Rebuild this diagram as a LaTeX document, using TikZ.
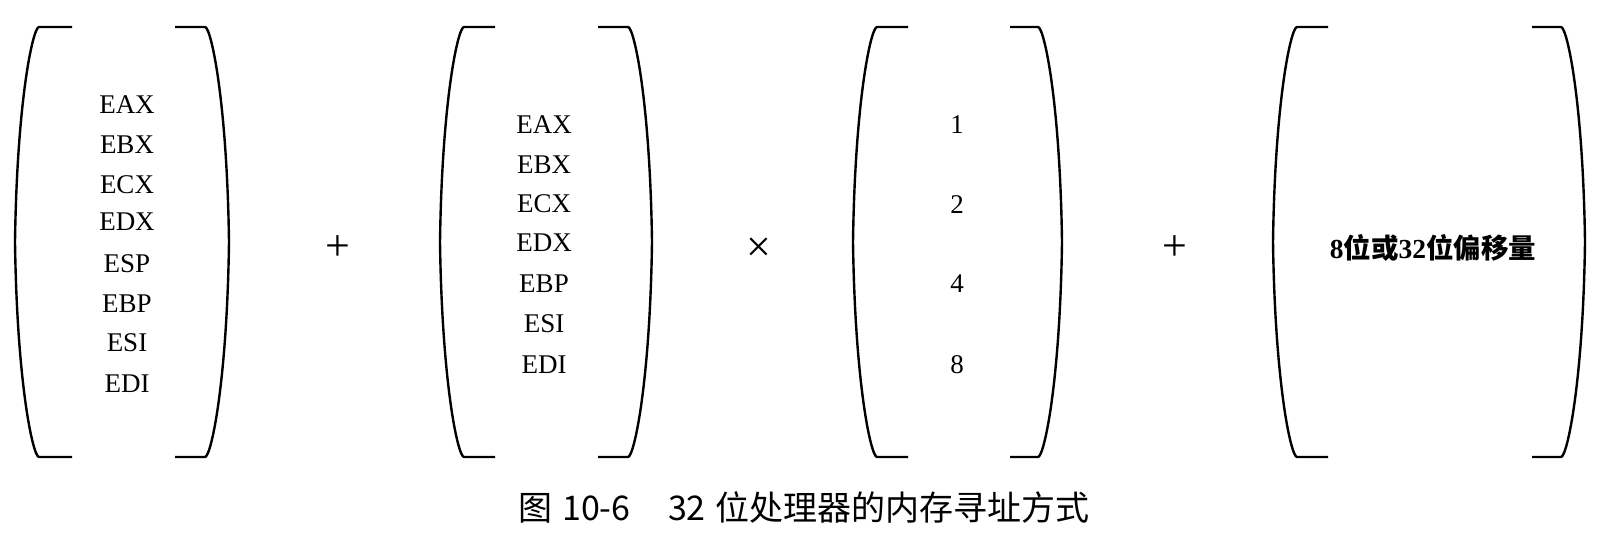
\documentclass[tikz,border=0pt]{standalone}
\usepackage{fontspec}
\setmainfont{Liberation Serif}
\newfontfamily\cjk{Noto Sans CJK SC}
\newfontfamily\cjkb{Noto Sans CJK SC Bold}
\newcommand\mybrackets[4]{%
  \draw[brk] (#2,27) -- (#1+24,27) .. controls (#1+18,27) and (#1+2,100) .. (#1,242)
     .. controls (#1+2,384) and (#1+18,457) .. (#1+24,457) -- (#2,457);
  \draw[brk] (#3,27) -- (#4-24,27) .. controls (#4-18,27) and (#4-2,100) .. (#4,242)
     .. controls (#4-2,384) and (#4-18,457) .. (#4-24,457) -- (#3,457);
}
\tikzset{
  brk/.style={line width=2.4pt, black},
  reg/.style={font=\fontsize{27}{27}\selectfont, inner sep=0pt},
  op/.style={font=\fontsize{44}{44}\selectfont, inner sep=0pt},
}
\begin{document}
\begin{tikzpicture}[x=1pt,y=-1pt]
\useasboundingbox (0,0) rectangle (1616,538);
% group 1
\mybrackets{15}{72}{175}{229}
\foreach \t/\y [count=\i] in {EAX/105,EBX/145,ECX/185,EDX/222,ESP/264,EBP/304,ESI/343,EDI/384}
  \node[reg] (a\i) at (127,\y) {\t};
\node[op] (plus1) at (338,248) {+};
% group 2
\mybrackets{440}{495}{598}{652}
\foreach \t/\y [count=\i] in {EAX/125,EBX/165,ECX/204,EDX/243,EBP/284,ESI/324,EDI/365}
  \node[reg] (b\i) at (544,\y) {\t};
\node[op] (times) at (759,250) {×};
% group 3
\mybrackets{853}{908}{1010}{1062}
\foreach \t/\y [count=\i] in {1/125,2/205,4/284,8/365}
  \node[reg] (c\i) at (957,\y) {\t};
\node[op] (plus2) at (1175,248) {+};
% group 4
\mybrackets{1273}{1328}{1532}{1585}
\node[inner sep=0pt, font=\fontsize{27.5}{27.5}\selectfont\bfseries] (d1) at (1433,248)
  {8{\cjkb 位或}32{\cjkb 位偏移量}};
% caption
\node[inner sep=0pt, font=\cjk\fontsize{34}{34}\selectfont] (cap) at (804,507)
  {图\hspace{0.3em}10-6\hspace{1.1em}32\hspace{0.3em}位处理器的内存寻址方式};
\end{tikzpicture}
\end{document}
